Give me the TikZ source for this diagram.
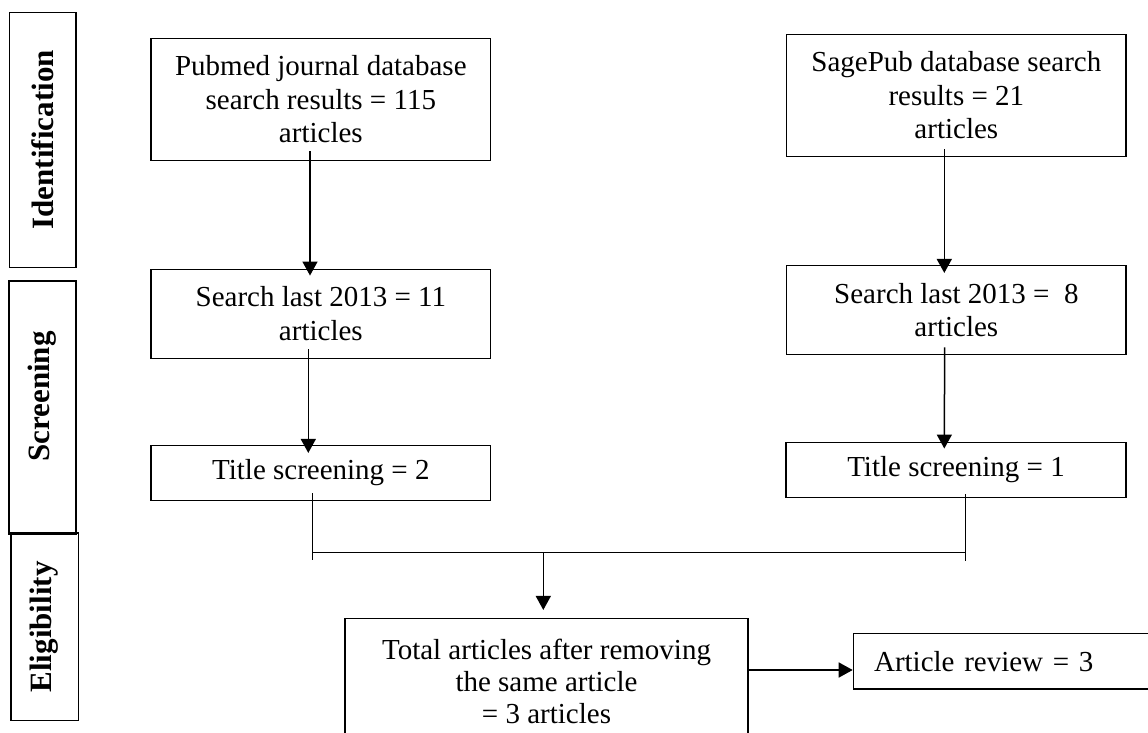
\documentclass[tikz,border=0pt]{standalone}
\usepackage{fontspec}
\setmainfont{Liberation Serif}
\usetikzlibrary{arrows.meta}
\begin{document}
\begin{tikzpicture}[x=1pt,y=-1pt,
  box/.style={draw, line width=1.5pt, align=center, inner sep=0pt, font=\fontsize{29}{33.5}\selectfont},
  lab/.style={draw, line width=1.5pt, inner sep=0pt, rotate=90, font=\fontsize{31}{36}\selectfont\bfseries},
  arr/.style={line width=1.5pt, -{Triangle[width=15pt,length=14pt]}},
  ln/.style={line width=1.5pt}]
\clip (0,0) rectangle (1148,733);
% phase labels
\node[lab, minimum width=255pt, minimum height=66.7pt] (ident) at (42.65,139.8) {Identification};
\node[lab, minimum width=253pt, minimum height=67pt] (screen) at (42.5,407.5) {\hspace*{22pt}Screening};
\node[lab, minimum width=187.7pt, minimum height=67.3pt] (elig) at (44.65,626.85) {Eligibility};
% boxes
\node[box, minimum width=339.7pt, minimum height=122.4pt] (pub) at (320.85,99.5) {Pubmed journal database\\search results = 115\\articles};
\node[box, minimum width=339.3pt, minimum height=122.2pt] (sage) at (956.35,95.4) {SagePub database search\\results = 21\\articles};
\node[box, minimum width=339.7pt, minimum height=89pt] (s11) at (320.85,313.8) {Search last 2013 = 11\\articles};
\node[box, minimum width=339.3pt, minimum height=88.8pt] (s8) at (956.35,310.1) {Search last 2013 = \ 8\\articles};
\node[box, minimum width=339.7pt, minimum height=54.6pt] (t2) at (320.85,473) {Title screening = 2};
\node[box, minimum width=340pt, minimum height=55pt] (t1) at (956,469.8) {Title screening = 1};
\node[box, minimum width=403pt, minimum height=125.4pt, font=\fontsize{29}{32}\selectfont] (total) at (546.5,681) {Total articles after removing\\the same article\\= 3 articles};
\node[box, anchor=west, minimum height=55.7pt, text width=258.8pt, inner xsep=20.6pt, align=left] (review) at (852.7,661.2) {Article review = 3};
% junction coordinates
\coordinate (jl) at (312.3,552.3);
\coordinate (jr) at (965.7,552.3);
\coordinate (jm) at (543.3,552.3);
\coordinate (lend) at (312.3,560);
\coordinate (rend) at (965.7,560.7);
% connectors
\draw[arr] ([xshift=-10.85pt,yshift=10pt]pub.south) -- ([xshift=-10.85pt,yshift=-7pt]s11.north);
\draw[arr] ([xshift=-12.55pt,yshift=10pt]s11.south) -- ([xshift=-12.55pt,yshift=-8pt]t2.north);
\draw[arr] ([xshift=-12.05pt,yshift=8pt]sage.south) -- ([xshift=-12.05pt,yshift=-8pt]s8.north);
\draw[arr] ([xshift=-11.7pt,yshift=8pt]s8.south) -- ([xshift=-11.7pt,yshift=-7pt]t1.north);
\draw[ln] ([xshift=-8.55pt,yshift=7.6pt]t2.south) -- (lend);
\draw[ln] ([xshift=9.7pt,yshift=4pt]t1.south) -- (rend);
\draw[ln] (jl) -- (jr);
\draw[arr] (jm) -- ([xshift=-3.2pt,yshift=7.6pt]total.north);
\draw[arr] ([yshift=11pt]total.east) -- ([yshift=-8.8pt]review.west);
\end{tikzpicture}
\end{document}
